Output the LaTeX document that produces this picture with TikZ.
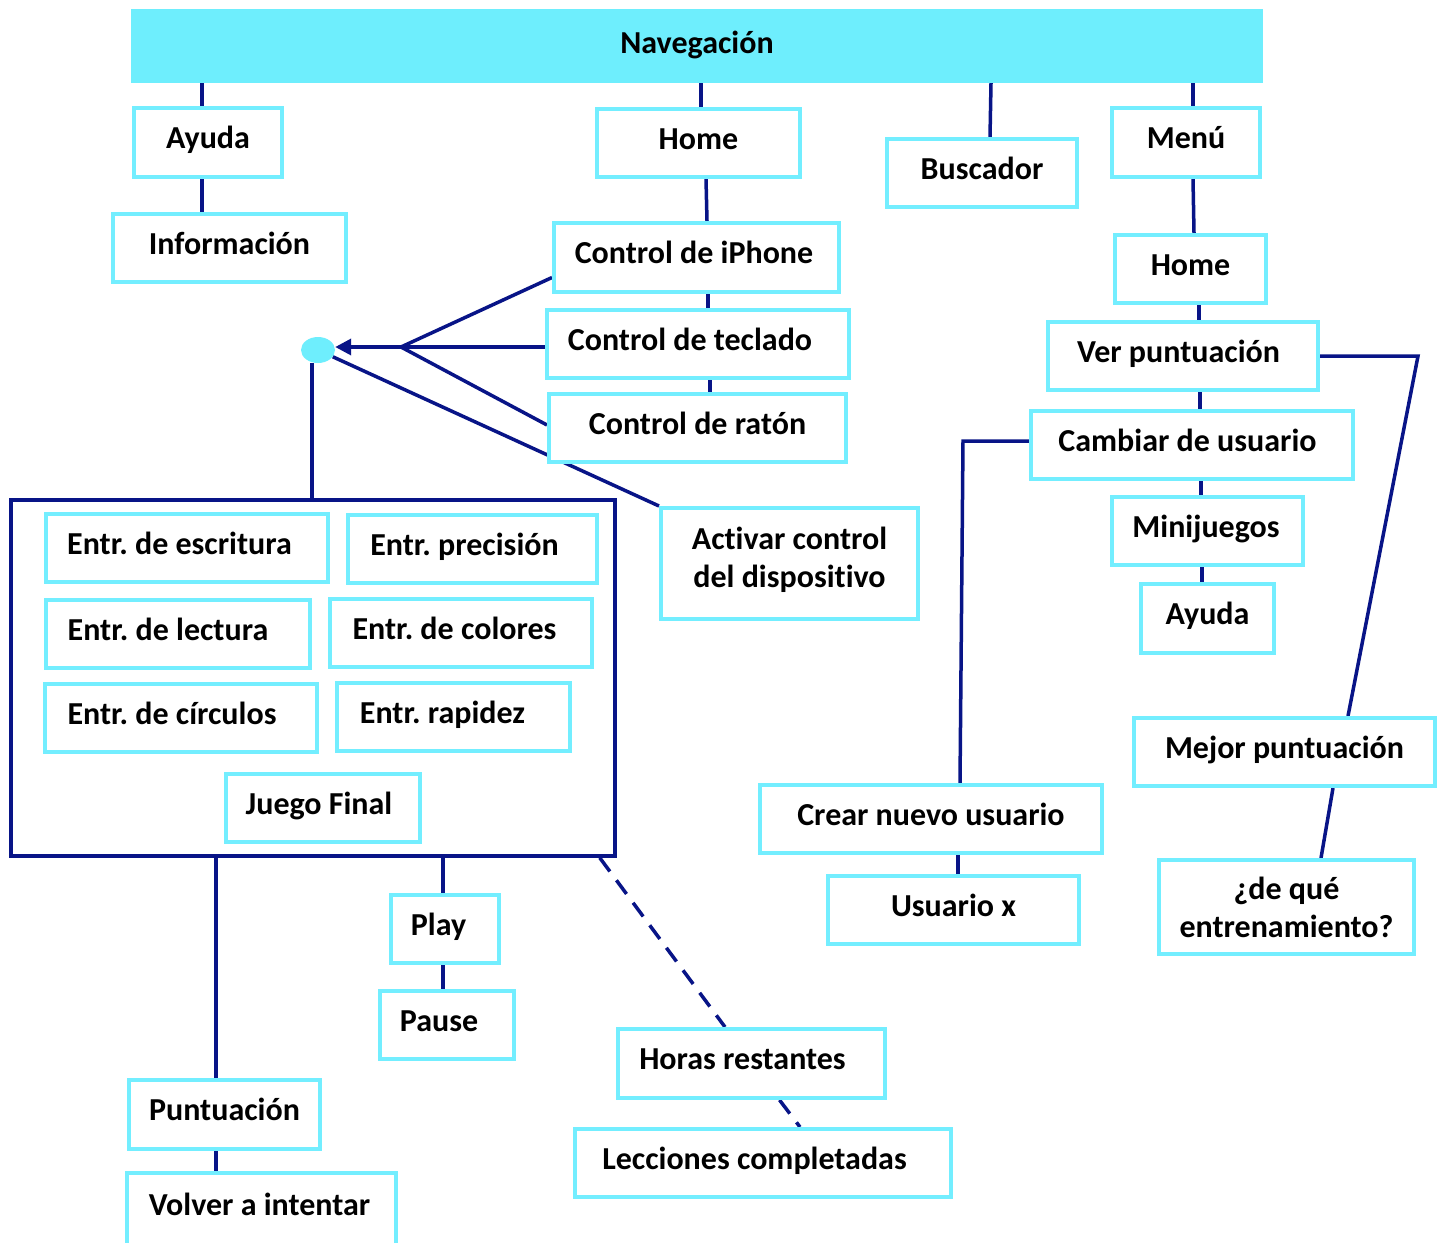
\documentclass[tikz,border=0pt]{standalone}
\usepackage{fontspec}
\setmainfont{Carlito}[Ligatures=NoCommon]
\usetikzlibrary{shapes.geometric,arrows.meta}
\pgfdeclarelayer{bottom}
\pgfdeclarelayer{background}
\pgfsetlayers{bottom,background,main}
\definecolor{navyc}{RGB}{8,20,135}
\definecolor{cyanb}{RGB}{115,238,255}
\definecolor{cyanf}{RGB}{110,238,253}
\frenchspacing
% optional arg: twice the leftward shift of the text inside the box
\newcommand{\bx}[7][0]{\node[box, oneline, minimum width={#5-#3-4}, minimum height={#6-#4-4}] (#2) at ({(#3+#5)/2},{(#4+#6)/2}) {#7\hspace*{#1pt}};}
\begin{document}
\begin{tikzpicture}[x=1pt, y=-1pt,
  box/.style={draw=cyanb, line width=4pt, fill=white, font=\bfseries\fontsize{32}{39}\selectfont, inner sep=0pt, align=center},
  oneline/.style={text height=21pt, text depth=9pt},
  conn/.style={draw=navyc, line width=3.5pt},
  dashconn/.style={conn, dash pattern=on 17pt off 11pt}]
\useasboundingbox (0,0) rectangle (1445,1242);
\begin{pgfonlayer}{bottom}
\fill[white] (0,0) rectangle (1445,1242);
\end{pgfonlayer}
% top bar
\node[fill=cyanf, minimum width=1132, minimum height=74, inner sep=0pt, text height=21pt, text depth=6pt, font=\bfseries\fontsize{32}{39}\selectfont] (nav) at (697,46) {Navegación};
% left column
\bx{ayuda}{132}{106}{284}{179}{Ayuda}
\bx{info}{111}{212}{348}{284}{Información}
% home column
\bx{home}{595}{107}{802}{179}{Home}
\bx[5]{iphone}{552}{221}{841}{294}{Control de iPhone}
\bx[16]{teclado}{545}{308}{851}{380}{Control de teclado}
\bx{raton}{547}{392}{848}{464}{Control de ratón}
\node[box, minimum width=257, minimum height=111, text depth=13pt] (activar) at (789.5,563.5) {Activar control\\[-1pt]del dispositivo};
\bx{busc}{885}{137}{1079}{209}{Buscador}
% menu column
\bx{menu}{1110}{106}{1262}{179}{Menú}
\bx{homeb}{1113}{233}{1268}{305}{Home}
\bx[9]{ver}{1046}{320}{1320}{392}{Ver puntuación}
\bx[9]{cambiar}{1029}{409}{1355}{481}{Cambiar de usuario}
\bx[3]{mini}{1110}{495}{1305}{567}{Minijuegos}
\bx{ayudab}{1139}{582}{1276}{655}{Ayuda}
\bx{mejor}{1132}{716}{1437}{788}{Mejor puntuación}
\node[box, minimum width=255, minimum height=94] (deque) at (1286.5,907) {¿de qué\\[-1pt]entrenamiento?};
\bx{crear}{758}{783}{1104}{855}{Crear nuevo usuario}
\bx{usux}{826}{874}{1081}{946}{Usuario x}
% dot
\node[ellipse, fill=cyanf, minimum width=34, minimum height=26, inner sep=0pt] (dot) at (318,350) {};
\coordinate (fan) at (401,347);
% big container
\node[draw=navyc, line width=3.5pt, fill=white, minimum width=604, minimum height=356, inner sep=0pt] (big) at (313,678) {};
\bx[15]{escr}{44}{512}{330}{584}{Entr. de escritura}
\bx[16]{prec}{346}{513}{599}{585}{Entr. precisión}
\bx[20]{lect}{44}{598}{312}{670}{Entr. de lectura}
\bx[13]{col}{328}{597}{594}{669}{Entr. de colores}
\bx[18]{circ}{43}{682}{319}{754}{Entr. de círculos}
\bx[22]{rap}{335}{681}{572}{753}{Entr. rapidez}
\bx[8]{final}{224}{772}{422}{844}{Juego Final}
% bottom
\bx[13]{play}{389}{893}{501}{965}{Play}
\bx[16]{pause}{378}{989}{516}{1061}{Pause}
\bx[18]{horas}{616}{1027}{887}{1100}{Horas restantes}
\bx[17]{lecc}{573}{1127}{953}{1199}{Lecciones completadas}
\bx{punt}{127}{1078}{322}{1151}{Puntuación}
\bx[4]{volver}{125}{1171}{398}{1247}{Volver a intentar}
% connectors
\begin{pgfonlayer}{background}
\draw[conn] ([xshift=-6]ayuda.north) -- ([xshift=-6]ayuda.north |- nav.south);
\draw[conn] ([xshift=-6]ayuda.south) -- ([xshift=-6]ayuda.south |- info.north);
\draw[conn] ([xshift=2.5]home.north) -- ([xshift=2.5]home.north |- nav.south);
\draw[conn] ([xshift=7.5]home.south) -- ([xshift=10.5]iphone.north);
\draw[conn] ([xshift=11.5]iphone.south) -- ([xshift=11.5]iphone.south |- teclado.north);
\draw[conn] ([xshift=12]teclado.south) -- ([xshift=12]teclado.south |- raton.north);
\draw[conn] ([xshift=8]busc.north) -- ([xshift=9]busc.north |- nav.south);
\draw[conn] ([xshift=7]menu.north) -- ([xshift=7]menu.north |- nav.south);
\draw[conn] ([xshift=7]menu.south) -- ([xshift=3.5]homeb.north);
\draw[conn] ([xshift=8.5]homeb.south) -- ([xshift=8.5]homeb.south |- ver.north);
\draw[conn] ([xshift=8]cambiar.north) -- ([xshift=8]cambiar.north |- ver.south);
\draw[conn] ([xshift=-6.5]mini.north) -- ([xshift=-6.5]mini.north |- cambiar.south);
\draw[conn] ([xshift=-5.5]ayudab.north) -- ([xshift=-5.5]ayudab.north |- mini.south);
\draw[conn] (ver.east) -- ([xshift=98]ver.east) -- ([xshift=63.5]mejor.north);
\draw[conn] ([xshift=48.5]mejor.south) -- ([xshift=34.5]deque.north);
\draw[conn] ([yshift=4]cambiar.west) -- ([xshift=-66,yshift=4]cambiar.west) -- ([xshift=29]crear.north);
\draw[conn] ([xshift=27]crear.south) -- ([xshift=27]crear.south |- usux.north);
\draw[conn] (fan) -- ([yshift=-20]iphone.west);
\draw[conn] (fan) -- (fan -| teclado.west);
\draw[conn] (fan) -- ([yshift=3]raton.west);
\draw[conn, -{Triangle[length=16pt,width=16pt]}] (fan) -- (fan -| dot.east);
\draw[conn] (dot) -- (activar.north west);
\draw[conn] ([xshift=-6]dot.south) -- ([xshift=-6]dot.south |- big.north);
\draw[conn] ([xshift=-8.5]punt.north) -- ([xshift=-8.5]punt.north |- big.south);
\draw[conn] ([xshift=-8.5]punt.south) -- ([xshift=-8.5]punt.south |- volver.north);
\draw[conn] ([xshift=-2]play.north) -- ([xshift=-2]play.north |- big.south);
\draw[conn] ([xshift=-4]pause.north) -- ([xshift=-4]pause.north |- play.south);
\draw[dashconn] ([xshift=-17]big.south east) -- ([xshift=-26.5]horas.north);
\draw[dashconn] ([xshift=28]horas.south) -- ([xshift=37]lecc.north);
\end{pgfonlayer}
\end{tikzpicture}
\end{document}
